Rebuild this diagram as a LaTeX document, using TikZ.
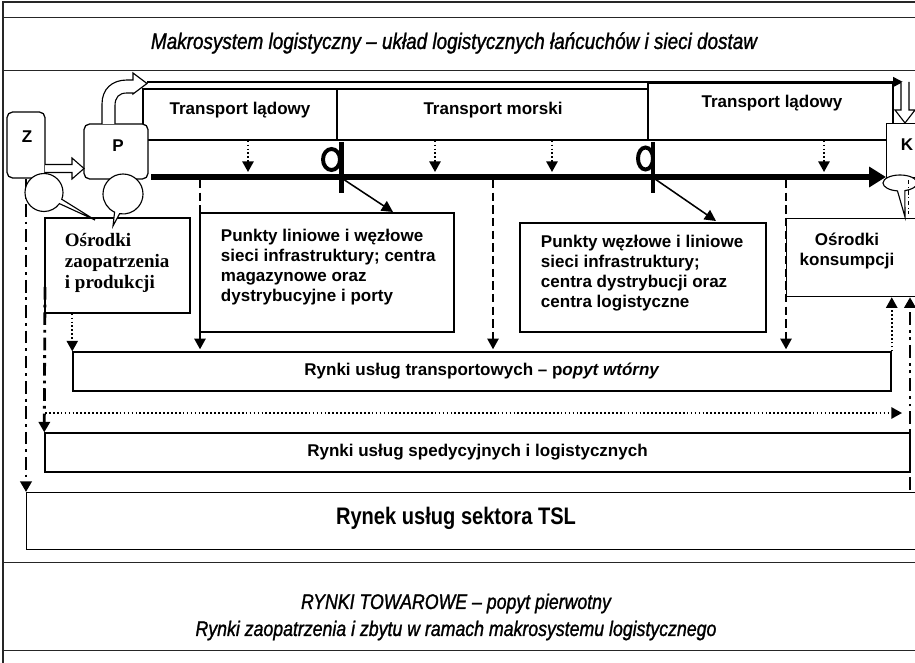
\documentclass[tikz,border=0pt]{standalone}
\usepackage{fontspec}
\setmainfont{Liberation Sans}
\newfontfamily\narrowfont[FakeStretch=0.84]{Liberation Sans}
\newfontfamily\narrowmed[FakeStretch=0.84, FakeBold=1.2]{Liberation Sans}
\newfontfamily\timesfont{Liberation Serif}
\usetikzlibrary{arrows.meta, shapes.callouts, shapes.geometric, calc}

\begin{document}
\begin{tikzpicture}[
    x=0.025cm, y=-0.025cm,
    every node/.style={font=\bfseries\fontsize{12.1}{14.2}\selectfont, align=center, text=black},
    box/.style={rectangle, draw=black, line width=0.9pt, fill=white, inner sep=0pt},
    frameBox/.style={rectangle, draw=black!85, line width=0.8pt, fill=white, inner sep=0pt, anchor=north west},
    boxText/.style={font=\bfseries\fontsize{12.1}{14.2}\selectfont, align=left, anchor=west},
    bigTitle/.style={font=\narrowmed\itshape\fontsize{16}{19}\selectfont},
    hollowArr/.style={draw=black, fill=white, line width=0.8pt, line join=miter},
    bubble/.style={ellipse callout, draw=black, fill=white, line width=0.8pt, inner sep=0pt},
    port/.style={ellipse, draw=black, line width=2.8pt, inner sep=0pt},
    portBar/.style={line width=3pt},
    mainFlow/.style={line width=4pt, -{Triangle[length=12pt, width=14pt]}},
    thinArr/.style={line width=1pt, -{Triangle[length=7pt, width=7pt]}},
    diagArr/.style={line width=1.1pt, -{Triangle[length=8pt, width=8pt]}},
    dotArr/.style={line width=1.2pt, dash pattern=on 1.2pt off 1.6pt, -{Triangle[length=7.5pt, width=8pt]}},
    dashArr/.style={line width=1.1pt, dash pattern=on 6pt off 3pt, shorten >=1.5pt, -{Triangle[length=7.5pt, width=8pt]}},
    dashDotArr/.style={line width=2pt, dash pattern=on 9pt off 3.5pt on 2pt off 3.5pt, -{Triangle[length=7.5pt, width=8pt]}},
    dashDotDotArr/.style={line width=2pt, dash pattern=on 9pt off 3.5pt on 2pt off 3.5pt on 2pt off 3.5pt, -{Triangle[length=7.5pt, width=8pt]}}
  ]
    \useasboundingbox (0,0) rectangle (915,663);
    \clip (0,0) rectangle (915,663);

    % outer frame and the two wide bands
    \draw[draw=black!85, line width=0.8pt] (3,700) -- (3,2) -- (960,2);
    \node[frameBox, minimum width=24cm, minimum height=1.325cm] (title) at (3,17) {};
    \node[bigTitle] at (454,43) {Makrosystem logistyczny – układ logistycznych łańcuchów i sieci dostaw};
    \node[frameBox, minimum width=24cm, minimum height=2.2cm] (towary) at (3,562) {};
    \node[font=\narrowmed\itshape\fontsize{15}{19.2}\selectfont] at (456,617)
      {RYNKI TOWAROWE – popyt pierwotny\\Rynki zaopatrzenia i zbytu w ramach makrosystemu logistycznego};

    % transport legs
    \node[box, minimum width=4.85cm, minimum height=1.275cm] (ladA) at (240,114.5) {};
    \node[box, minimum width=7.775cm, minimum height=1.275cm] (morski) at (492.5,114.5) {};
    \node[box, minimum width=6.125cm, minimum height=1.425cm] (ladB) at (770.5,111.5) {};
    \node at (240,110) {Transport lądowy};
    \node at (493,110) {Transport morski};
    \node at (772,103) {Transport lądowy};

    % Z, P, K
    \node[box, rounded corners=4pt, minimum width=0.95cm, minimum height=1.65cm] (zaop) at (26,145) {};
    \node at (27,137) {Z};
    \node[box, rounded corners=4pt, minimum width=1.6cm, minimum height=1.375cm] (prod) at (116,151.5) {};
    \node at (118,146) {P};
    \node[box, anchor=north west, minimum width=2cm, minimum height=1.35cm] (kons) at (886,123) {};
    \node at (907,145) {K};

    % centres and markets
    \node[box, minimum width=3.625cm, minimum height=2.375cm] (oz) at (117.5,265.5) {};
    \node[boxText, font=\timesfont\bfseries\fontsize{13.5}{15}\selectfont] at (60,263)
      {Ośrodki\\zaopatrzenia\\i produkcji};
    \node[box, minimum width=6.35cm, minimum height=2.975cm] (pk1) at (327,272.5) {};
    \node[boxText] at (216,267)
      {Punkty liniowe i węzłowe\\sieci infrastruktury; centra\\magazynowe oraz\\dystrybucyjne i porty};
    \node[box, minimum width=6.15cm, minimum height=2.725cm] (pk2) at (643,277.5) {};
    \node[boxText] at (536,273)
      {Punkty węzłowe i liniowe\\sieci infrastruktury;\\centra dystrybucji oraz\\centra logistyczne};
    \node[box, anchor=north west, minimum width=3.5cm, minimum height=1.95cm] (ok) at (786,218) {};
    \node at (847,251) {Ośrodki\\konsumpcji};

    \node[box, minimum width=20.45cm, minimum height=0.975cm] (rt) at (482,371.5)
      {Rynki usług transportowych – p\textit{opyt wtórny}};
    \node[box, minimum width=21.625cm, minimum height=0.975cm] (rs) at (477.5,452.5)
      {Rynki usług spedycyjnych i logistycznych};
    \node[box, anchor=north west, minimum width=23cm, minimum height=1.425cm] (tsl) at (26,492) {};
    \node[font=\narrowfont\bfseries\fontsize{17}{20}\selectfont] at (456,518) {Rynek usług sektora TSL};

    % main flow
    \coordinate (flowStart) at (151,177);
    \draw[mainFlow] (flowStart) -- (kons.west |- flowStart);
    \coordinate (topStart) at (147,82);
    \coordinate (topEnd) at (903,82);
    \draw[thinArr] (topStart) -- (topEnd);

    \foreach \name/\xx in {d1/248, d2/435, d3/552, d4/824}
      \coordinate (\name) at (\xx,172);
    \draw[dotArr] (ladA.south -| d1) -- (d1);
    \draw[dotArr] (morski.south -| d2) -- (d2);
    \draw[dotArr] (morski.south -| d3) -- (d3);
    \draw[dotArr] (ladB.south -| d4) -- (d4);

    % ports on the line
    \node[port, minimum width=0.425cm, minimum height=0.525cm] (port1) at (331.5,159.5) {};
    \draw[portBar] (341.5,142) -- (341.5,193);
    \node[port, minimum width=0.375cm, minimum height=0.55cm] (port2) at (645.5,158.5) {};
    \draw[portBar] (653,142) -- (653,193);
    \coordinate (j1) at (343,179);
    \coordinate (j1tip) at (393,212);
    \coordinate (j2) at (655,179);
    \coordinate (j2tip) at (716,221);
    \draw[diagArr] (j1) -- (j1tip);
    \draw[diagArr] (j2) -- (j2tip);

    % drops to the transport market
    \foreach \name/\xx in {s1/200, s2/493, s3/786}
      \coordinate (\name) at (\xx,180);
    \draw[dashArr] (s1) -- (rt.north -| s1);
    \draw[dashArr] (s2) -- (rt.north -| s2);
    \draw[dashArr] (s3) -- (rt.north -| s3);
    \draw[dotArr] (oz.south -| rt.west) -- (rt.north west);
    \draw[dotArr] (rt.north east) -- (ok.south -| rt.north east);

    \coordinate (h1) at (45,413);
    \coordinate (h2) at (902,413);
    \draw[dotArr] (h1) -- (h2);
    \coordinate (ds) at (45,287);
    \draw[dashDotArr] (ds) -- (rs.north west);
    \draw[dashDotArr] (zaop.south) -- (tsl.north -| zaop.south);
    \coordinate (rb) at (910,490);
    \draw[dashDotDotArr] (rb) -- (ok.south -| rb);

    % hollow block arrows
    \draw[hollowArr] (45,164.5) -- (72,164.5) -- (72,158) -- (84,168.5) -- (72,179) -- (72,172.5) -- (45,172.5);
    \draw[hollowArr] (901,82) -- (901,110) -- (895,110) -- (905,123) -- (915,110) -- (909,110) -- (909,82);
    \draw[hollowArr] (102,124) -- (102,104) .. controls (102,89) and (112,80) .. (127,80)
      -- (133,80) -- (133,73) -- (147,83.5) -- (133,94) -- (133,93) -- (127,93)
      .. controls (119,93) and (115,97) .. (115,106) -- (115,124);

    % speech bubbles
    \node[bubble, minimum width=0.95cm, minimum height=0.95cm, callout absolute pointer={(95,220)}] (bubbleZ) at (44,192.5) {};
    \node[bubble, minimum width=1cm, minimum height=1cm, callout absolute pointer={(113,226)}] (bubbleP) at (123,194) {};
    \node[bubble, minimum width=0.85cm, minimum height=0.4cm, callout pointer arc=25, callout absolute pointer={(905,217)}] (bubbleK) at (900,183) {};
    \draw[line width=0.4pt, dash dot] (908,180) -- (908,214);
  \end{tikzpicture}
\end{document}
